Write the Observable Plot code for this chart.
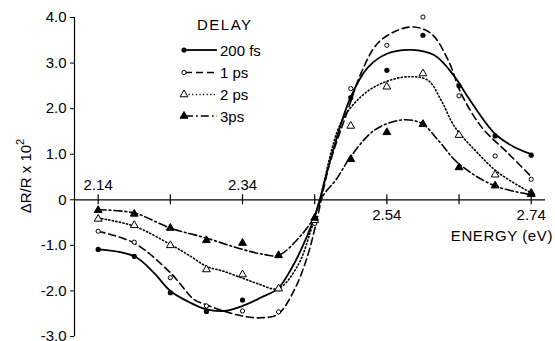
<!DOCTYPE html>
<html>
<head>
<meta charset="utf-8">
<script src="https://cdn.jsdelivr.net/npm/d3@7"></script>
<script src="https://cdn.jsdelivr.net/npm/@observablehq/plot@0.6"></script>
<style>
  html, body { margin: 0; padding: 0; background: #fff; }
  #chart svg { display: block; }
</style>
</head>
<body>
<div id="chart"></div>
<script>
// ---- measured data points (energy in eV, ΔR/R x 10^2) ----
const energies = [2.14, 2.19, 2.24, 2.29, 2.34, 2.39, 2.44, 2.49, 2.54, 2.59, 2.64, 2.69, 2.74];
const pts200fs = [-1.09, -1.24, -2.04, -2.45, -2.20, -1.95, -0.48, 2.24, 2.84, 3.61, 2.50, 1.40, 0.98];
const pts1ps   = [-0.69, -0.93, -1.71, -2.33, -2.44, -2.46, -0.52, 2.44, 3.39, 4.01, 2.28, 0.96, 0.45];
const pts2ps   = [-0.42, -0.56, -1.00, -1.53, -1.64, -1.95, -0.45, 1.62, 2.48, 2.77, 1.42, 0.55, 0.15];
const pts3ps   = [-0.23, -0.31, -0.62, -0.89, -0.95, -1.22, -0.40, 0.89, 1.48, 1.66, 0.71, 0.31, 0.12];

// ---- hand-drawn fit curves ----
const fit200E = [2.14, 2.19, 2.217, 2.24, 2.268, 2.289, 2.314, 2.34, 2.365, 2.389, 2.407, 2.421, 2.437, 2.447, 2.463, 2.489, 2.514, 2.541, 2.574, 2.606, 2.634, 2.652, 2.689, 2.715, 2.74];
const fit200V = [-1.09, -1.24, -1.60, -2.00, -2.26, -2.40, -2.44, -2.33, -2.15, -1.95, -1.53, -1.10, -0.50, 0.00, 0.95, 2.22, 2.91, 3.21, 3.29, 3.17, 2.70, 2.26, 1.46, 1.17, 1.00];
const fit1E = [2.14, 2.19, 2.24, 2.273, 2.289, 2.314, 2.34, 2.365, 2.389, 2.412, 2.43, 2.442, 2.46, 2.486, 2.504, 2.527, 2.555, 2.578, 2.602, 2.625, 2.643, 2.671, 2.708, 2.74];
const fit1V = [-0.69, -0.95, -1.60, -2.19, -2.30, -2.44, -2.55, -2.59, -2.51, -1.97, -1.24, -0.51, 0.75, 1.97, 2.77, 3.43, 3.72, 3.79, 3.64, 3.06, 2.33, 1.60, 1.02, 0.51];
const fit2E = [2.14, 2.19, 2.24, 2.268, 2.29, 2.314, 2.34, 2.361, 2.389, 2.416, 2.435, 2.447, 2.476, 2.504, 2.532, 2.569, 2.597, 2.615, 2.634, 2.662, 2.694, 2.74];
const fit2V = [-0.40, -0.58, -0.98, -1.24, -1.46, -1.57, -1.72, -1.84, -1.95, -1.46, -0.66, 0.00, 1.68, 2.26, 2.55, 2.70, 2.62, 2.19, 1.60, 1.09, 0.60, 0.15];
const fit3E = [2.14, 2.19, 2.24, 2.29, 2.34, 2.37, 2.39, 2.416, 2.437, 2.452, 2.47, 2.49, 2.523, 2.56, 2.588, 2.611, 2.639, 2.689, 2.74];
const fit3V = [-0.22, -0.29, -0.62, -0.84, -1.09, -1.20, -1.22, -0.87, -0.44, 0.10, 0.45, 0.95, 1.53, 1.75, 1.68, 1.31, 0.80, 0.31, 0.11];

// ---- axes / labels ----
const xTicks = [2.14, 2.24, 2.34, 2.44, 2.54, 2.64, 2.74];
const xLabelsAbove = [2.14, 2.34];
const xLabelsBelow = [2.54, 2.74];
const yTicks = [-3, -2, -1, 0, 1, 2, 3, 4];
const seriesNames = ["200 fs", "1 ps", "2 ps", "3ps"];
const legendTitle = "DELAY";
const xTitle = "ENERGY (eV)";

// ---- styles ----
const dashes = ["none", "7,4", "1.2,2.4", "8,3,1.8,3"];
const lineWidths = [1.8, 1.6, 1.6, 1.6];

const pointSets = [pts200fs, pts1ps, pts2ps, pts3ps];
const fitSets = [[fit200E, fit200V], [fit1E, fit1V], [fit2E, fit2V], [fit3E, fit3V]];
const markerStyles = [
  {symbol: "circle", fill: "black", stroke: "none", r: 2.6},
  {symbol: "circle", fill: "white", stroke: "black", r: 2.1},
  {symbol: "triangle", fill: "white", stroke: "black", r: 2.9},
  {symbol: "triangle", fill: "black", stroke: "black", r: 2.9}
];

const xDomain = [2.1072, 2.7598];

const marks = [];
marks.push(Plot.ruleX([xDomain[0]], {y1: -3, y2: 4, stroke: "black", strokeWidth: 1.2}));
marks.push(Plot.axisY(yTicks, {
  tickSize: 4, tickPadding: 4, label: null, fontSize: 15,
  tickFormat: d => d === 0 ? "0" : (d < 0 ? "-" + Math.abs(d).toFixed(1) : d.toFixed(1))
}));
marks.push(Plot.ruleY([0], {stroke: "black", strokeWidth: 1.2}));
marks.push(Plot.ruleX(xTicks, {y1: -0.11, y2: 0.11, stroke: "black", strokeWidth: 1.2}));
marks.push(Plot.text(xLabelsAbove, {x: d => d, y: 0, dy: -15, text: d => d.toFixed(2), fontSize: 15}));
marks.push(Plot.text(xLabelsBelow, {x: d => d, y: 0, dy: 15, text: d => d.toFixed(2), fontSize: 15}));

fitSets.forEach(([E, V], i) => {
  const data = E.map((e, j) => ({e, v: V[j]}));
  marks.push(Plot.line(data, {x: "e", y: "v", curve: "catmull-rom", stroke: "black",
    strokeWidth: lineWidths[i], strokeDasharray: dashes[i]}));
});
pointSets.forEach((vals, i) => {
  const data = energies.map((e, j) => ({e, v: vals[j]}));
  const m = markerStyles[i];
  marks.push(Plot.dot(data, {x: "e", y: "v", symbol: m.symbol, fill: m.fill, stroke: m.stroke, r: m.r, strokeWidth: 1}));
});

const chart = Plot.plot({
  width: 555, height: 341,
  marginLeft: 74, marginRight: 10, marginTop: 17, marginBottom: 5,
  x: {domain: xDomain, axis: null},
  y: {domain: [-3, 4], axis: null},
  style: {fontFamily: "'Liberation Sans', Arial, sans-serif", fontSize: "15px", color: "black", background: "white"},
  marks
});
document.getElementById("chart").appendChild(chart);

// ---- overlay labels & legend (layout only) ----
const svg = d3.select(chart);
const ff = "'Liberation Sans', Arial, sans-serif";

const yl = svg.append("text")
  .attr("transform", "translate(31,176) rotate(-90)")
  .attr("text-anchor", "middle")
  .attr("font-family", ff).attr("font-size", 15).attr("fill", "black");
yl.append("tspan").text("ΔR/R x 10");
yl.append("tspan").attr("dy", -7).attr("font-size", 11).text("2");

svg.append("text").attr("x", 553).attr("y", 241).attr("text-anchor", "end")
  .attr("font-family", ff).attr("font-size", 15).attr("letter-spacing", 0.6).attr("fill", "black").text(xTitle);

svg.append("text").attr("x", 197).attr("y", 30).attr("text-anchor", "start")
  .attr("font-family", ff).attr("font-size", 15).attr("letter-spacing", 1.5).attr("fill", "black").text(legendTitle);

const rowY = [50, 72.5, 94.5, 116];
seriesNames.forEach((name, i) => {
  const g = svg.append("g");
  g.append("line").attr("x1", 185).attr("x2", 217).attr("y1", rowY[i]).attr("y2", rowY[i])
    .attr("stroke", "black").attr("stroke-width", lineWidths[i])
    .attr("stroke-dasharray", dashes[i] === "none" ? null : dashes[i]);
  const m = markerStyles[i];
  const sym = d3.symbol().type(m.symbol === "circle" ? d3.symbolCircle : d3.symbolTriangle)
    .size(Math.PI * m.r * m.r);
  g.append("path").attr("d", sym()).attr("transform", `translate(184,${rowY[i]})`)
    .attr("fill", m.fill).attr("stroke", m.stroke === "none" ? null : m.stroke).attr("stroke-width", 1);
  g.append("text").attr("x", 220).attr("y", rowY[i] + 5.5).attr("text-anchor", "start")
    .attr("font-family", ff).attr("font-size", 15).attr("fill", "black").text(name);
});
</script>
</body>
</html>
